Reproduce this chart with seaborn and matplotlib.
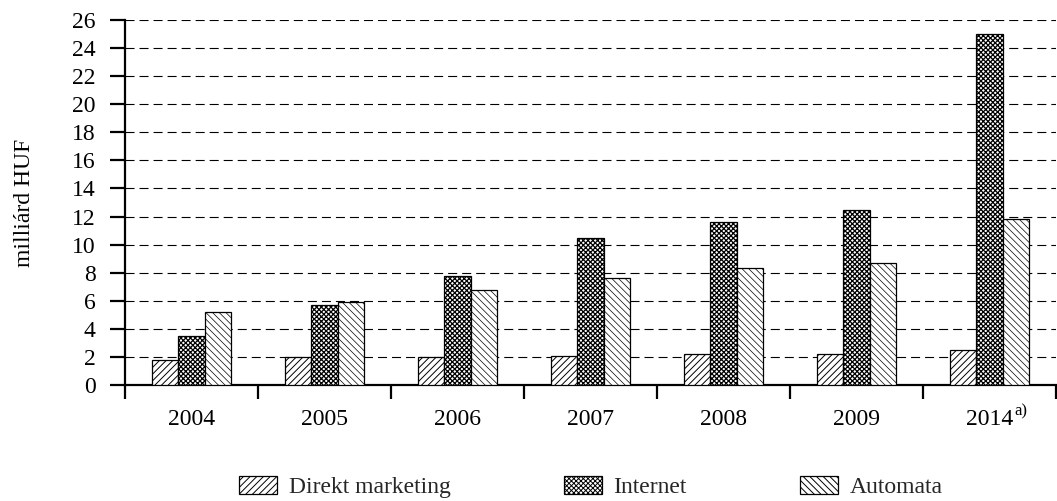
import matplotlib
matplotlib.use("Agg")
import matplotlib.pyplot as plt
import seaborn as sns
import pandas as pd
import numpy as np

years = ["2004", "2005", "2006", "2007", "2008", "2009", "2014"]
series = ["Direkt marketing", "Internet", "Automata"]
direkt_marketing = [1.8, 2.0, 2.0, 2.1, 2.2, 2.2, 2.5]
internet = [3.5, 5.7, 7.8, 10.5, 11.6, 12.5, 25.0]
automata = [5.2, 5.9, 6.8, 7.6, 8.3, 8.7, 11.8]
hatches = ["/////", "xxxxxxx", "\\\\\\\\\\"]
hatch_widths = [0.7, 0.9, 0.5]
footnote_mark = "a)"

df = pd.DataFrame({
    "year": years * 3,
    "series": [s for s in series for _ in years],
    "value": direkt_marketing + internet + automata,
})

sns.set_theme(style="white")
plt.rcParams["font.family"] = ["Liberation Serif", "DejaVu Serif"]
plt.rcParams["hatch.linewidth"] = 0.7
plt.rcParams["lines.scale_dashes"] = False

FS = 17

fig = plt.figure(figsize=(10.57, 5.01), dpi=100)
ax = fig.add_axes([125 / 1057, 1 - 385 / 501, 931 / 1057, 365 / 501])

sns.barplot(data=df, x="year", y="value", hue="series", order=years,
            hue_order=series, palette=["white"] * 3, edgecolor="black",
            linewidth=0.9, width=0.6, ax=ax, legend=False, zorder=3)

for cont, h, hw in zip(ax.containers, hatches, hatch_widths):
    for p in cont.patches:
        p.set_hatch(h)
        p.set_edgecolor("black")
        p.set_facecolor("white")
        if hasattr(p, "set_hatch_linewidth"):
            p.set_hatch_linewidth(hw)

ax.set_ylim(0, 26)
ax.set_xlim(-0.5, len(years) - 0.5)
ax.set_yticks(np.arange(0, 27, 2))
ax.set_xticks(range(len(years)))
ax.set_xticklabels(years)
ax.set_xticks(np.arange(-0.5, len(years), 1.0), minor=True)

for yv in np.arange(2, 27, 2):
    ax.axhline(yv, color="black", lw=0.8, dashes=(6.5, 3.6), zorder=1)

for side in ["top", "right"]:
    ax.spines[side].set_visible(False)
for side in ["left", "bottom"]:
    ax.spines[side].set_linewidth(1.6)
    ax.spines[side].set_color("black")

ax.tick_params(axis="y", which="major", direction="out", length=10.8, width=1.6,
               labelsize=FS, pad=10.5, colors="black", left=True)
ax.tick_params(axis="x", which="major", length=0, labelsize=FS, pad=17.5,
               colors="black")
ax.tick_params(axis="x", which="minor", direction="out", length=10, width=1.6,
               bottom=True, color="black")

ax.set_xlabel("")
ax.set_ylabel("milliárd HUF", fontsize=FS, color="black")
ax.yaxis.set_label_coords(-0.097, 0.5)

leg = ax.legend(handles=ax.containers, labels=series, loc="center",
                bbox_to_anchor=(591 / 1057, 1 - 487 / 501),
                bbox_transform=fig.transFigure, ncol=3, frameon=False,
                fontsize=FS, handlelength=1.6, handleheight=0.8,
                handletextpad=0.5, columnspacing=4.8, borderpad=0,
                borderaxespad=0)

# footnote marker on the last year label
fig.canvas.draw()
last_label = ax.get_xticklabels()[-1]
ax.annotate(footnote_mark, xy=(1, 1), xycoords=last_label,
            xytext=(1, -1.5), textcoords="offset points",
            ha="left", va="center", fontsize=12, color="black")

fig.savefig("out.png", dpi=100)
